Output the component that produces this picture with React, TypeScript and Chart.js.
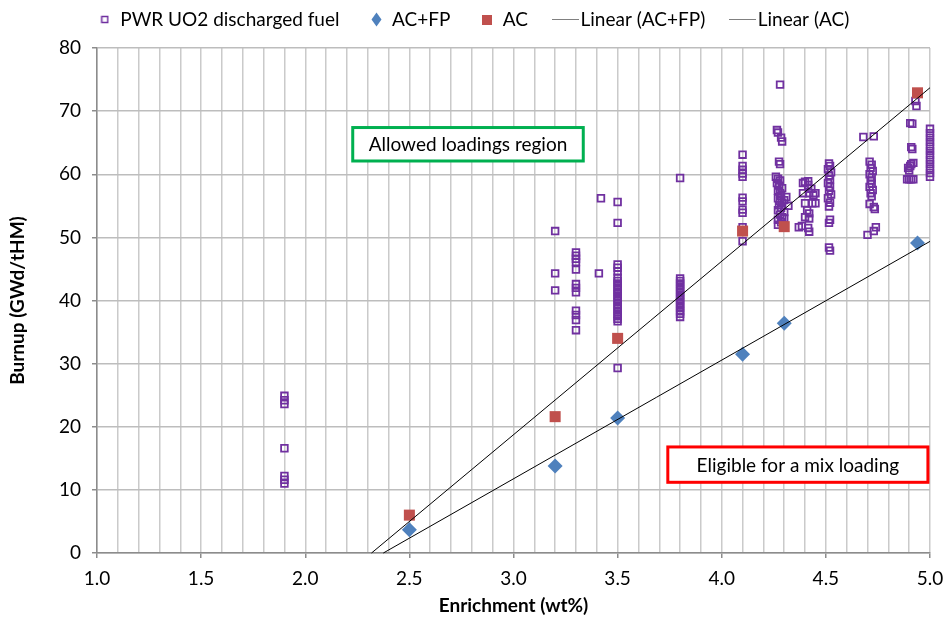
import React, { useEffect, useRef } from 'react';
import { Chart, registerables } from 'chart.js';

Chart.register(...registerables);

const FONT = 'Lato, "Open Sans", sans-serif';
const FONT_SIZE = 19;
const PURPLE = '#7030a0';
const BLUE = '#4f81bd';
const RED = '#c0504d';

// PWR UO2 discharged fuel: [enrichment wt%, burnup GWd/tHM]
const pwrPoints: [number, number][] = [
  [1.9, 24.9], [1.9, 24.2], [1.9, 23.6], [1.9, 16.6], [1.9, 12.2], [1.9, 11.6], [1.9, 11.0],
  [3.2, 51.0], [3.2, 44.3], [3.2, 41.6],
  [3.3, 47.6], [3.3, 47.1], [3.3, 46.6], [3.3, 46.1], [3.3, 44.9], [3.3, 42.6], [3.3, 42.0], [3.3, 41.3],
  [3.3, 38.4], [3.3, 37.7], [3.3, 36.9], [3.3, 35.3],
  [3.42, 56.2], [3.41, 44.3],
  [3.5, 55.6], [3.5, 52.3], [3.5, 45.7], [3.5, 45.2], [3.5, 44.6], [3.5, 43.6], [3.5, 43.1], [3.5, 42.7],
  [3.5, 42.3], [3.5, 41.8], [3.5, 41.4], [3.5, 41.0], [3.5, 40.5], [3.5, 40.1], [3.5, 39.7], [3.5, 39.2],
  [3.5, 38.8], [3.5, 38.4], [3.5, 37.9], [3.5, 37.5], [3.5, 37.1], [3.5, 36.7], [3.5, 29.3],
  [3.8, 59.4], [3.8, 43.5], [3.8, 43.1], [3.8, 42.7], [3.8, 42.2], [3.8, 41.8], [3.8, 41.4], [3.8, 40.9],
  [3.8, 40.5], [3.8, 40.1], [3.8, 39.6], [3.8, 39.2], [3.8, 38.8], [3.8, 38.3], [3.8, 37.9], [3.8, 37.4],
  [4.1, 63.1], [4.1, 61.3], [4.1, 60.7], [4.1, 60.1], [4.1, 59.6], [4.1, 56.3], [4.1, 55.7], [4.1, 54.4],
  [4.1, 53.9], [4.1, 51.6], [4.1, 51.1], [4.1, 49.4],
  [4.28, 74.2], [4.265, 67.0], [4.27, 66.6], [4.285, 65.8], [4.29, 65.2], [4.275, 62.0], [4.28, 61.6],
  [4.26, 59.6], [4.27, 59.3], [4.28, 59.0], [4.265, 58.6], [4.275, 58.2], [4.29, 57.8], [4.27, 57.4],
  [4.28, 57.0], [4.285, 56.6], [4.27, 56.2], [4.28, 55.8], [4.29, 55.5], [4.275, 55.1], [4.285, 54.7],
  [4.27, 54.3], [4.3, 54.0], [4.28, 53.6], [4.29, 53.2], [4.27, 52.8], [4.285, 52.4], [4.27, 52.0],
  [4.3, 55.9], [4.31, 56.4], [4.3, 53.0], [4.32, 55.0], [4.37, 51.6],
  [4.40, 58.8], [4.415, 58.3], [4.39, 57.0], [4.42, 57.0], [4.44, 56.7], [4.40, 55.4], [4.435, 55.4],
  [4.41, 54.3], [4.42, 53.8], [4.40, 53.2], [4.42, 53.0], [4.385, 51.8], [4.415, 51.5], [4.42, 50.9],
  [4.39, 58.6], [4.415, 58.9], [4.45, 57.0], [4.45, 55.4], [4.43, 57.7],
  [4.515, 61.7], [4.52, 61.3], [4.51, 60.8], [4.525, 60.3], [4.515, 59.8], [4.52, 59.2], [4.51, 58.6],
  [4.52, 58.0], [4.515, 57.4], [4.525, 56.8], [4.51, 56.2], [4.52, 55.5], [4.515, 54.9], [4.52, 52.8],
  [4.515, 52.3], [4.515, 48.4], [4.52, 47.9],
  [4.68, 65.9], [4.73, 66.0],
  [4.71, 62.0], [4.72, 61.5], [4.715, 61.0], [4.725, 60.5], [4.71, 60.0], [4.72, 59.5], [4.715, 59.0],
  [4.72, 58.5], [4.71, 58.0], [4.725, 57.5], [4.715, 57.0], [4.72, 56.5], [4.71, 55.3], [4.73, 54.8],
  [4.735, 54.5], [4.74, 51.6], [4.73, 51.0], [4.70, 50.4],
  [4.93, 71.6], [4.935, 70.8], [4.905, 68.1], [4.915, 68.0], [4.91, 64.3], [4.915, 64.0],
  [4.895, 61.0], [4.905, 61.3], [4.91, 61.6], [4.92, 61.8], [4.90, 60.6],
  [4.89, 59.2], [4.90, 59.2], [4.91, 59.2], [4.92, 59.2],
  [5.0, 67.2], [5.0, 66.5], [5.0, 65.8], [5.0, 65.1], [5.0, 64.4], [5.0, 63.7], [5.0, 63.0], [5.0, 62.3],
  [5.0, 61.6], [5.0, 60.9], [5.0, 60.2], [5.0, 59.6],
];

const acEnrichment = [2.5, 3.2, 3.5, 4.1, 4.3, 4.94];
const acBurnup = [6.0, 21.6, 34.0, 51.0, 51.7, 72.9];
const acfpEnrichment = [2.5, 3.2, 3.5, 4.1, 4.3, 4.94];
const acfpBurnup = [3.7, 13.8, 21.4, 31.5, 36.4, 49.1];

const xMin = 1.0;
const xMax = 5.0;
const xGridStep = 0.1;
const xLabelStep = 0.5;
const yMin = 0;
const yMax = 80;
const yStep = 10;

const seriesLabels = ['PWR UO2 discharged fuel', 'AC+FP', 'AC', 'Linear (AC+FP)', 'Linear (AC)'];
const xTitle = 'Enrichment (wt%)';
const yTitle = 'Burnup (GWd/tHM)';

const boxNotes = [
  { text: 'Allowed loadings region', x0: 2.228, x1: 3.335, y0: 62.1, y1: 67.4, color: '#00b050' },
  { text: 'Eligible for a mix loading', x0: 3.741, x1: 4.99, y0: 11.2, y1: 16.8, color: '#ff0000' },
];

function linearFit(xs: number[], ys: number[]) {
  const n = xs.length;
  const mx = xs.reduce((a, b) => a + b, 0) / n;
  const my = ys.reduce((a, b) => a + b, 0) / n;
  let sxy = 0;
  let sxx = 0;
  for (let i = 0; i < n; i++) {
    sxy += (xs[i] - mx) * (ys[i] - my);
    sxx += (xs[i] - mx) * (xs[i] - mx);
  }
  const m = sxy / sxx;
  return { m, b: my - m * mx };
}

function trendPoints(xs: number[], ys: number[]) {
  const { m, b } = linearFit(xs, ys);
  return [
    { x: -b / m, y: 0 },
    { x: xMax, y: m * xMax + b },
  ];
}

const isMajor = (v: number) => Math.abs(v / xLabelStep - Math.round(v / xLabelStep)) < 1e-6;

const legendTweak = {
  id: 'legendTweak',
  beforeLayout(chart: any) {
    const lg = chart.legend;
    if (!lg || lg._tweaked) return;
    lg._tweaked = true;
    const fit = lg.fit.bind(lg);
    lg.fit = function () {
      fit();
      this.height = 48;
    };
    const draw = lg.draw.bind(lg);
    lg.draw = function () {
      const t = this.top;
      const l = this.left;
      const r = this.right;
      this.top = t - 21;
      this.left = l + 9;
      this.right = r + 9;
      draw();
      this.top = t;
      this.left = l;
      this.right = r;
    };
  },
};

const boxNotesPlugin = {
  id: 'boxNotes',
  afterDraw(chart: any) {
    const { ctx, scales } = chart;
    const xs = scales.x;
    const ys = scales.y;
    ctx.save();
    for (const n of boxNotes) {
      const l = xs.getPixelForValue(n.x0);
      const r = xs.getPixelForValue(n.x1);
      const t = ys.getPixelForValue(n.y1);
      const b = ys.getPixelForValue(n.y0);
      ctx.fillStyle = '#ffffff';
      ctx.fillRect(l, t, r - l, b - t);
      ctx.strokeStyle = n.color;
      ctx.lineWidth = 3;
      ctx.strokeRect(l, t, r - l, b - t);
      ctx.fillStyle = '#000';
      ctx.font = `${FONT_SIZE}px ${FONT}`;
      ctx.textAlign = 'center';
      ctx.textBaseline = 'middle';
      ctx.fillText(n.text, (l + r) / 2, (t + b) / 2 + 1);
    }
    ctx.restore();
  },
};

function makeIcon(w: number, h: number, draw: (g: CanvasRenderingContext2D) => void) {
  const c = document.createElement('canvas');
  c.width = w;
  c.height = h;
  const g = c.getContext('2d')!;
  draw(g);
  return c;
}

export default function App() {
  const ref = useRef<HTMLCanvasElement>(null);

  useEffect(() => {
    const canvas = ref.current!;
    const icons = [
      makeIcon(9, 9, (g) => {
        g.strokeStyle = PURPLE;
        g.lineWidth = 1.5;
        g.strokeRect(1.5, 1.5, 6, 6);
      }),
      makeIcon(11, 15, (g) => {
        g.fillStyle = BLUE;
        g.beginPath();
        g.moveTo(5.5, 0.5);
        g.lineTo(10.5, 7.5);
        g.lineTo(5.5, 14.5);
        g.lineTo(0.5, 7.5);
        g.closePath();
        g.fill();
      }),
      makeIcon(10, 10, (g) => {
        g.fillStyle = RED;
        g.fillRect(0, 0, 10, 10);
      }),
      makeIcon(27, 2, (g) => {
        g.fillStyle = '#000';
        g.fillRect(0, 0, 27, 1);
      }),
      makeIcon(27, 2, (g) => {
        g.fillStyle = '#000';
        g.fillRect(0, 0, 27, 1);
      }),
    ];

    const tickFont = { family: FONT, size: FONT_SIZE };
    const titleFont = { family: FONT, size: FONT_SIZE, weight: 'bold' as const };

    const chart = new Chart(canvas, {
      type: 'scatter',
      data: {
        datasets: [
          {
            label: seriesLabels[0],
            data: pwrPoints.map(([x, y]) => ({ x, y })),
            pointStyle: 'rect',
            pointRadius: 4.7,
            borderColor: PURPLE,
            backgroundColor: 'rgba(0,0,0,0)',
            borderWidth: 1.8,
            order: 4,
            clip: false,
          },
          {
            label: seriesLabels[1],
            data: acfpEnrichment.map((x, i) => ({ x, y: acfpBurnup[i] })),
            pointStyle: 'rectRot',
            pointRadius: 7.5,
            borderColor: BLUE,
            backgroundColor: BLUE,
            borderWidth: 0,
            order: 3,
            clip: false,
          },
          {
            label: seriesLabels[2],
            data: acEnrichment.map((x, i) => ({ x, y: acBurnup[i] })),
            pointStyle: 'rect',
            pointRadius: 7.8,
            borderColor: RED,
            backgroundColor: RED,
            borderWidth: 0,
            order: 2,
            clip: false,
          },
          {
            label: seriesLabels[3],
            data: trendPoints(acfpEnrichment, acfpBurnup),
            showLine: true,
            pointRadius: 0,
            borderColor: '#000',
            borderWidth: 1,
            order: 1,
            clip: false,
          },
          {
            label: seriesLabels[4],
            data: trendPoints(acEnrichment, acBurnup),
            showLine: true,
            pointRadius: 0,
            borderColor: '#000',
            borderWidth: 1,
            order: 0,
            clip: false,
          },
        ],
      },
      options: {
        responsive: false,
        animation: false,
        devicePixelRatio: 1,
        layout: { padding: { top: 0, right: 14, bottom: 0, left: 0 } },
        scales: {
          x: {
            type: 'linear',
            min: xMin,
            max: xMax,
            ticks: {
              stepSize: xGridStep,
              autoSkip: false,
              maxRotation: 0,
              minRotation: 0,
              maxTicksLimit: 100,
              font: tickFont,
              color: '#000',
              padding: 9,
              callback: (v: any) => (isMajor(Number(v)) ? Number(v).toFixed(1) : ''),
            },
            grid: {
              color: '#cacaca',
              lineWidth: 1.5,
              tickLength: 5,
              tickColor: (ctx: any) => (ctx.tick && isMajor(ctx.tick.value) ? '#8c8c8c' : 'rgba(0,0,0,0)'),
            },
            border: { color: '#8c8c8c', width: 1.5 },
            title: {
              display: true,
              text: xTitle,
              font: titleFont,
              color: '#000',
              padding: { top: 0, bottom: 5.6 },
            },
            afterFit: (s: any) => {
              s.height = 70;
              s.paddingLeft = 0;
              s.paddingRight = 0;
            },
          },
          y: {
            type: 'linear',
            min: yMin,
            max: yMax,
            ticks: {
              stepSize: yStep,
              font: tickFont,
              color: '#000',
              padding: 11,
            },
            grid: {
              color: '#bdbdbd',
              lineWidth: 1.5,
              tickLength: 5,
              tickColor: '#8c8c8c',
            },
            border: { color: '#8c8c8c', width: 1.5 },
            title: {
              display: true,
              text: yTitle,
              font: titleFont,
              color: '#000',
              padding: { top: 6.6, bottom: 0 },
            },
            afterFit: (s: any) => {
              s.width = 97;
              s.paddingTop = 0;
              s.paddingBottom = 0;
            },
          },
        },
        plugins: {
          legend: {
            position: 'top',
            labels: {
              usePointStyle: true,
              pointStyleWidth: 12,
              padding: 31,
              font: tickFont,
              color: '#000',
              generateLabels: (ch: any) =>
                ch.data.datasets.map((d: any, i: number) => ({
                  text: d.label,
                  pointStyle: icons[i],
                  datasetIndex: i,
                  hidden: false,
                  fillStyle: 'rgba(0,0,0,0)',
                  strokeStyle: 'rgba(0,0,0,0)',
                  lineWidth: 0,
                  fontColor: '#000',
                })),
            },
          },
          tooltip: { enabled: false },
        },
      },
      plugins: [legendTweak, boxNotesPlugin],
    } as any);

    return () => chart.destroy();
  }, []);

  return (
    <div style={{ position: 'fixed', left: 0, top: 0, width: 944, height: 623, background: '#fff' }}>
      <canvas ref={ref} width={944} height={623} />
    </div>
  );
}
